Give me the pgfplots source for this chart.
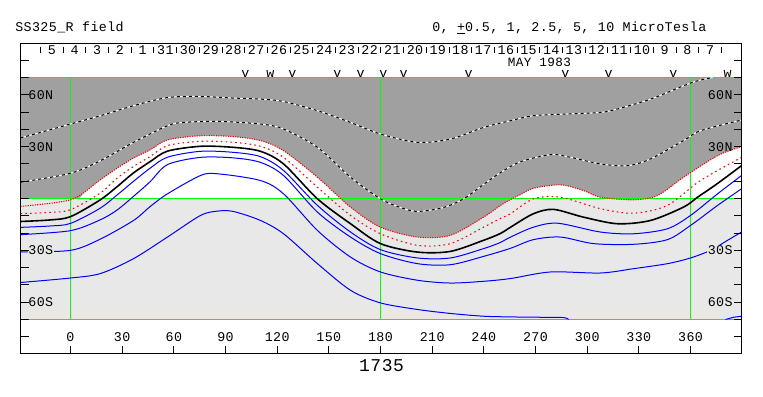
\documentclass[border=0pt]{standalone}
\usepackage{fontspec}
\setmainfont{Liberation Mono}[LetterSpace=3]
\usepackage{pgfplots}
\pgfplotsset{compat=1.18}
\usepgfplotslibrary{fillbetween}
\definecolor{dgray}{HTML}{A0A0A0}
\definecolor{lgray}{HTML}{E8E8E8}
\definecolor{grn}{HTML}{00FF00}
\newcommand\fs{\fontsize{10}{12}\selectfont}
\newcommand\dl[2]{\node[font=\fs,inner sep=0pt] at (axis cs:#1,85.9) {#2};}
\newcommand\vm[2]{\node[font=\fs,inner sep=0pt] at (axis cs:#1,72.0) {#2};}
\begin{document}
\begin{tikzpicture}
\begin{axis}[
 scale only axis, width=540.75pt, height=232.5pt,
 xmin=-29.03, xmax=389.61, ymin=-89.67, ymax=89.67,
 clip=false, axis on top,
 axis line style={line width=0.75pt},
 tick align=inside, major tick length=6pt,
 tick style={black, line width=0.75pt},
 xtick={0,30,...,360}, xtick pos=left,
 xticklabel style={anchor=center, yshift=12.4pt, font=\fs, inner sep=0pt},
 ytick={-80,-70,...,80}, ytick pos=both, yticklabels={},
 /pgf/number format/assume math mode=true,
]
% backgrounds
\addplot[name path=eq, draw=none] coordinates {(-29.03,0) (389.61,0)};
\addplot[name path=bot, draw=none] coordinates {(-29.03,-70) (389.61,-70)};
\addplot[name path=top, draw=none] coordinates {(-29.03,70) (389.61,70)};
\addplot[lgray] fill between[of=bot and eq];
\addplot[name path=g1, draw=none, smooth] coordinates {(-29.03,0) (2.6,0) (7.3,3.0) (17.1,10.7) (27,17.5) (36.3,23.3) (46.2,28.1) (56.3,33.9) (75.5,36.3) (94.6,35.8) (110.3,33.5) (123.7,27.7) (143.4,12.3) (162.6,-5.0) (180,-16.6) (201.5,-22.3) (220.6,-21.3) (239.8,-10.8) (249.7,-4.0) (255.5,-0.6) (261.3,2.3) (268.8,5.9) (284.5,7.9) (297.9,4.6) (307.7,0.75) (326.9,-0.75) (340.8,1.7) (355.9,12.3) (375.7,24.8) (389.61,30.0)};
\addplot[dgray] fill between[of=g1 and top];
% green grid
\addplot[grn, line width=0.75pt] coordinates {(-29.03,0) (389.61,0)};
\addplot[grn, line width=0.75pt] coordinates {(-29.03,70) (389.61,70)};
\addplot[grn, line width=0.75pt] coordinates {(-29.03,-70) (389.61,-70)};
\addplot[grn, line width=0.75pt] coordinates {(0,-70) (0,70)};
\addplot[grn, line width=0.75pt] coordinates {(180,-70) (180,70)};
\addplot[grn, line width=0.75pt] coordinates {(360,-70) (360,70)};
% dashed contours
\addplot[white, line width=0.75pt, smooth] coordinates {(-29.03,35.0) (0,43.1) (17.4,47.9) (36.6,53.7) (56.3,58.4) (75.5,59.0) (94.6,58.1) (110.3,57.5) (123.7,56.1) (143.4,50.8) (162.6,44.0) (180,37.3) (201.5,32.5) (220.6,34.4) (239.8,41.1) (255.5,45.0) (268.8,47.9) (288.6,48.9) (307.7,49.8) (317.6,51.8) (336.8,57.5) (355.9,65.2) (364.1,68.1) (373,70)};
\addplot[black, line width=0.75pt, dash pattern=on 2.25pt off 2.25pt, smooth] coordinates {(-29.03,35.0) (0,43.1) (17.4,47.9) (36.6,53.7) (56.3,58.4) (75.5,59.0) (94.6,58.1) (110.3,57.5) (123.7,56.1) (143.4,50.8) (162.6,44.0) (180,37.3) (201.5,32.5) (220.6,34.4) (239.8,41.1) (255.5,45.0) (268.8,47.9) (288.6,48.9) (307.7,49.8) (317.6,51.8) (336.8,57.5) (355.9,65.2) (364.1,68.1) (373,70)};
\addplot[white, line width=0.75pt, smooth] coordinates {(-29.03,9.4) (0,14.6) (17.4,21.9) (36.6,32.5) (56.3,42.1) (65.6,44.0) (85.4,44.6) (110.3,43.1) (123.7,40.2) (143.4,29.6) (162.6,12.3) (180,-0.2) (191.6,-5.2) (201.5,-7.5) (216.6,-5.2) (228.2,-0.2) (239.8,8.1) (249.7,15.0) (261.3,21.3) (278.7,25.4) (288.6,24.2) (307.7,20.0) (323.4,19.0) (336.8,22.9) (355.9,33.5) (365.8,39.2) (389.61,45.4)};
\addplot[black, line width=0.75pt, dash pattern=on 2.25pt off 2.25pt, smooth] coordinates {(-29.03,9.4) (0,14.6) (17.4,21.9) (36.6,32.5) (56.3,42.1) (65.6,44.0) (85.4,44.6) (110.3,43.1) (123.7,40.2) (143.4,29.6) (162.6,12.3) (180,-0.2) (191.6,-5.2) (201.5,-7.5) (216.6,-5.2) (228.2,-0.2) (239.8,8.1) (249.7,15.0) (261.3,21.3) (278.7,25.4) (288.6,24.2) (307.7,20.0) (323.4,19.0) (336.8,22.9) (355.9,33.5) (365.8,39.2) (389.61,45.4)};
% red dotted
\addplot[red, line width=0.8pt, dash pattern=on 0.9pt off 0.9pt, smooth] coordinates {(-29.03,-4.6) (-11.9,-2.8) (0,-0.75) (7.3,3.0) (17.1,10.7) (27,17.5) (36.3,23.3) (46.2,28.1) (56.3,33.9) (75.5,36.3) (94.6,35.8) (110.3,33.5) (123.7,27.7) (143.4,12.3) (162.6,-5.0) (180,-16.6) (201.5,-22.3) (220.6,-21.3) (239.8,-10.8) (249.7,-4.0) (255.5,-0.6) (261.3,2.3) (268.8,5.9) (284.5,7.9) (297.9,4.6) (307.7,0.75) (326.9,-0.75) (340.8,1.7) (355.9,12.3) (375.7,24.8) (389.61,30.0)};
\addplot[red, line width=0.8pt, dash pattern=on 1.2pt off 2.4pt, smooth] coordinates {(-29.03,-8.8) (-11.9,-8.0) (0,-6.5) (17.1,3.0) (27,11.7) (36.3,18.4) (46.2,24.2) (56.3,30.6) (75.5,33.1) (94.6,32.5) (110.3,30.2) (123.7,23.8) (143.4,6.5) (162.6,-9.8) (180,-20.4) (201.5,-27.1) (220.6,-26.1) (239.8,-16.6) (249.7,-11.5) (255.5,-8.8) (268.8,-0.2) (284.5,0.75) (307.7,-5.9) (326.9,-8.5) (346.6,-4.0) (365.8,10.4) (389.61,23.8)};
% neutral line
\addplot[black, line width=1.2pt, smooth] coordinates {(-29.03,-13.3) (-11.9,-12.4) (0,-10.5) (17.1,-0.9) (27,6.8) (36.3,14.6) (46.2,21.3) (56.3,27.4) (75.5,30.2) (94.6,29.6) (110.3,27.3) (123.7,20.0) (143.4,-0.2) (162.6,-14.6) (180,-26.1) (201.5,-31.0) (220.6,-30.6) (239.8,-24.2) (249.7,-20.2) (255.5,-16.6) (268.8,-8.8) (280.5,-6.3) (297.9,-10.8) (317.6,-14.6) (336.8,-12.7) (355.9,-5.0) (364.1,0.75) (375.7,8.7) (389.61,19.0)};
% blue contours
\addplot[blue, line width=0.75pt, smooth] coordinates {(-29.03,-16.7) (-11.9,-15.9) (0,-14.4) (17.1,-5.7) (27,2.0) (36.3,9.7) (46.2,17.5) (56.3,23.9) (75.5,27.3) (94.6,26.7) (110.3,24.2) (123.7,16.2) (143.4,-4.0) (162.6,-19.4) (180,-29.6) (201.5,-34.4) (220.6,-34.4) (239.8,-29.0) (249.7,-25.4) (255.5,-22.3) (268.8,-16.6) (282.8,-14.3) (307.7,-19.4) (326.9,-20.4) (346.6,-17.5) (360,-9.8) (375.7,2.7) (389.61,13.3)};
\addplot[blue, line width=0.75pt, smooth] coordinates {(-29.03,-20.9) (0,-18.6) (17.1,-12.4) (27,-6.7) (36.3,1.0) (46.2,9.7) (56.3,19.6) (75.5,23.8) (94.6,23.5) (110.3,20.9) (123.7,13.3) (143.4,-7.9) (162.6,-22.3) (180,-31.9) (201.5,-37.7) (220.6,-38.3) (239.8,-33.5) (255.5,-28.8) (268.8,-23.8) (284.5,-22.3) (303.7,-26.1) (326.9,-26.5) (346.6,-23.8) (360,-15.6) (375.7,-4.0) (389.61,5.6)};
\addplot[blue, line width=0.75pt, smooth] coordinates {(-29.03,-30.9) (0,-30.0) (17.1,-23.6) (36.6,-12.7) (46.2,-4.7) (56.3,2.7) (75.5,13.3) (85.4,14.3) (110.3,10.4) (123.7,2.7) (143.4,-18.5) (162.6,-33.9) (180,-42.5) (201.5,-47.3) (220.6,-48.9) (239.8,-47.9) (255.5,-46.3) (278.7,-42.5) (307.7,-43.1) (326.9,-40.6) (346.6,-37.7) (360,-34.4) (371.6,-30.0) (381.5,-24.2) (389.61,-19.4)};
\addplot[blue, line width=0.75pt, smooth] coordinates {(-29.03,-48.6) (0,-46.0) (17.4,-43.4) (36.6,-34.8) (56.3,-22.3) (75.5,-9.8) (85.4,-7.3) (94.6,-7.5) (110.3,-12.7) (123.7,-20.4) (143.4,-37.7) (162.6,-53.1) (180,-60.4) (201.5,-64.2) (220.6,-66.5) (239.8,-68.1) (255.5,-68.5) (272.5,-68.7) (286.3,-68.9) (289.2,-70)};
\addplot[blue, line width=0.75pt] coordinates {(380.3,-70) (385,-68.7) (389.61,-68.1)};
% day separators
\addplot[black, line width=0.75pt, unbounded coords=jump] coordinates {
(-17.42,84.3) (-17.42,87.9) (-17.42,nan)
(-4.24,84.3) (-4.24,87.9) (-4.24,nan)
(8.94,84.3) (8.94,87.9) (8.94,nan)
(22.12,84.3) (22.12,87.9) (22.12,nan)
(35.30,84.3) (35.30,87.9) (35.30,nan)
(48.48,84.3) (48.48,87.9) (48.48,nan)
(61.66,84.3) (61.66,87.9) (61.66,nan)
(74.84,84.3) (74.84,87.9) (74.84,nan)
(88.02,84.3) (88.02,87.9) (88.02,nan)
(101.20,84.3) (101.20,87.9) (101.20,nan)
(114.38,84.3) (114.38,87.9) (114.38,nan)
(127.56,84.3) (127.56,87.9) (127.56,nan)
(140.74,84.3) (140.74,87.9) (140.74,nan)
(153.92,84.3) (153.92,87.9) (153.92,nan)
(167.10,84.3) (167.10,87.9) (167.10,nan)
(180.28,84.3) (180.28,87.9) (180.28,nan)
(193.46,84.3) (193.46,87.9) (193.46,nan)
(206.64,84.3) (206.64,87.9) (206.64,nan)
(219.82,84.3) (219.82,87.9) (219.82,nan)
(233.00,84.3) (233.00,87.9) (233.00,nan)
(246.18,84.3) (246.18,87.9) (246.18,nan)
(259.36,84.3) (259.36,87.9) (259.36,nan)
(272.54,84.3) (272.54,87.9) (272.54,nan)
(285.72,84.3) (285.72,87.9) (285.72,nan)
(298.90,84.3) (298.90,87.9) (298.90,nan)
(312.08,84.3) (312.08,87.9) (312.08,nan)
(325.26,84.3) (325.26,87.9) (325.26,nan)
(338.44,84.3) (338.44,87.9) (338.44,nan)
(351.62,84.3) (351.62,87.9) (351.62,nan)
(364.80,84.3) (364.80,87.9) (364.80,nan)
(377.98,84.3) (377.98,87.9)
};
% day labels
\dl{-10.83}{5}\dl{2.35}{4}\dl{15.53}{3}\dl{28.71}{2}\dl{41.89}{1}
\dl{55.07}{31}\dl{68.25}{30}\dl{81.43}{29}\dl{94.61}{28}\dl{107.79}{27}
\dl{120.97}{26}\dl{134.15}{25}\dl{147.33}{24}\dl{160.51}{23}\dl{173.69}{22}
\dl{186.87}{21}\dl{200.05}{20}\dl{213.23}{19}\dl{226.41}{18}\dl{239.59}{17}
\dl{252.77}{16}\dl{265.95}{15}\dl{279.13}{14}\dl{292.31}{13}\dl{305.49}{12}
\dl{318.67}{11}\dl{331.85}{10}\dl{345.03}{9}\dl{358.21}{8}\dl{371.39}{7}
\node[font=\fontsize{9.5}{11}\selectfont, inner sep=0pt] at (axis cs:272.3,78.9) {MAY 1983};
\vm{101.6}{v}\vm{116.1}{w}\vm{128.9}{v}\vm{155}{v}\vm{168.4}{v}\vm{181.7}{v}
\vm{193.4}{v}\vm{231.1}{v}\vm{287.4}{v}\vm{312.4}{v}\vm{350.1}{v}\vm{381.5}{w}
% latitude labels
\node[font=\fs, anchor=west, fill=dgray, inner sep=0.5pt] at (axis cs:-25,60) {60N};
\node[font=\fs, anchor=west, fill=dgray, inner sep=0.5pt] at (axis cs:-25,30) {30N};
\node[font=\fs, anchor=west, fill=lgray, inner sep=0.5pt] at (axis cs:-25,-30) {30S};
\node[font=\fs, anchor=west, fill=lgray, inner sep=0.5pt] at (axis cs:-25,-60) {60S};
\node[font=\fs, anchor=east, fill=dgray, inner sep=0.5pt] at (axis cs:385,60) {60N};
\node[font=\fs, anchor=east, inner sep=0.5pt] at (axis cs:385,30) {30N};
\node[font=\fs, anchor=east, fill=lgray, inner sep=0.5pt] at (axis cs:385,-30) {30S};
\node[font=\fs, anchor=east, fill=lgray, inner sep=0.5pt] at (axis cs:385,-60) {60S};
% titles
\node[font=\fs, anchor=west, inner sep=0pt] at (axis cs:-32.2,98.9) {SS325\_R field};
\node[font=\fs, anchor=west, inner sep=0pt] at (axis cs:209.9,98.9) {0, \underline{+}0.5, 1, 2.5, 5, 10 MicroTesla};
\node[font=\fontsize{13.5}{15}\selectfont, inner sep=0pt] at (axis cs:180.6,-96.9) {1735};
\end{axis}
\pgfresetboundingbox
\path[use as bounding box] (-15.375pt,-31.875pt) rectangle (556.875pt,265.125pt);
\end{tikzpicture}
\end{document}
